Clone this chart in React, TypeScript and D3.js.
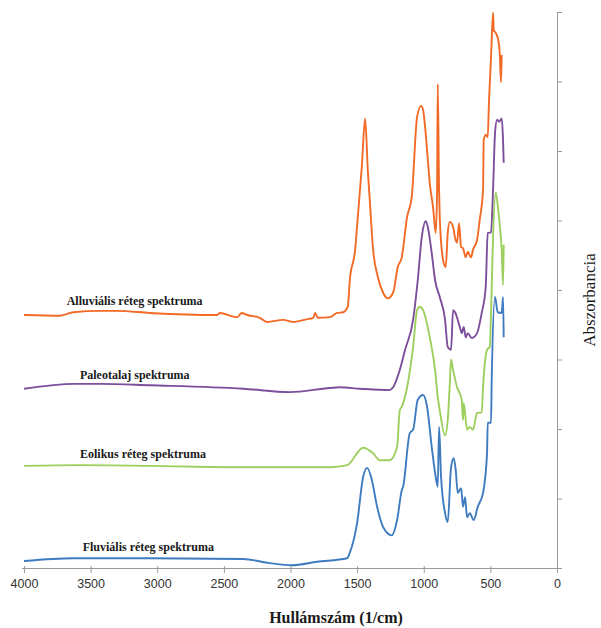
import React, { useEffect, useRef } from "react";
import * as d3 from "d3";

// Wavenumber (1/cm) and absorbance (arbitrary units, stacked spectra)
const alluvialWn = [4000, 3730, 3630, 3430, 3300, 3055, 2550, 2530, 2400, 2365, 2325, 2230, 2175, 2055, 1980, 1875, 1830, 1815, 1795, 1705, 1650, 1605, 1570, 1555, 1515, 1495, 1465, 1440, 1420, 1405, 1380, 1345, 1305, 1270, 1230, 1195, 1165, 1125, 1090, 1050, 1020, 1005, 990, 975, 955, 930, 910, 900, 895, 885, 880, 855, 835, 820, 805, 780, 765, 750, 735, 720, 705, 685, 670, 645, 630, 600, 580, 555, 550, 535, 520, 510, 495, 480, 475, 460, 445, 430, 420, 415];
const alluvialAbs = [3.64, 3.63, 3.68, 3.70, 3.70, 3.67, 3.64, 3.67, 3.61, 3.67, 3.64, 3.60, 3.54, 3.57, 3.54, 3.58, 3.60, 3.67, 3.60, 3.61, 3.67, 3.68, 3.76, 4.14, 4.58, 5.05, 5.77, 6.47, 5.73, 5.29, 4.58, 4.19, 3.96, 3.88, 3.96, 4.33, 4.47, 5.05, 5.34, 6.49, 6.65, 6.59, 6.35, 6.01, 5.54, 5.19, 4.82, 5.40, 6.96, 5.44, 5.05, 4.43, 4.33, 4.82, 4.98, 4.91, 4.75, 4.68, 4.96, 4.62, 4.60, 4.47, 4.55, 4.47, 4.58, 4.72, 5.01, 5.44, 6.16, 6.23, 6.20, 6.73, 7.35, 7.99, 7.74, 7.70, 7.63, 7.41, 6.99, 7.38];

const paleosolWn = [4000, 3620, 3430, 3055, 2355, 2005, 1705, 1630, 1480, 1255, 1230, 1180, 1140, 1080, 1045, 1015, 985, 970, 940, 915, 880, 840, 820, 795, 780, 765, 730, 715, 700, 685, 670, 640, 600, 565, 535, 520, 495, 480, 465, 450, 435, 415, 405, 400];
const paleosolAbs = [2.58, 2.65, 2.65, 2.63, 2.58, 2.53, 2.59, 2.60, 2.58, 2.56, 2.60, 2.85, 3.14, 3.57, 4.14, 4.76, 4.99, 4.91, 4.53, 4.14, 3.90, 3.57, 3.18, 3.14, 3.71, 3.68, 3.47, 3.38, 3.47, 3.32, 3.38, 3.31, 3.38, 3.67, 4.04, 4.82, 4.83, 5.44, 6.26, 6.45, 6.42, 6.47, 6.16, 5.83];

const eolianWn = [4000, 3580, 3055, 2355, 2155, 1705, 1575, 1455, 1380, 1330, 1255, 1200, 1180, 1165, 1125, 1080, 1050, 1030, 1005, 955, 915, 895, 880, 840, 820, 805, 795, 780, 750, 715, 705, 700, 675, 655, 630, 600, 565, 555, 525, 505, 490, 480, 460, 445, 430, 415, 405, 400];
const eolianAbs = [1.47, 1.48, 1.47, 1.45, 1.45, 1.45, 1.48, 1.73, 1.65, 1.55, 1.55, 1.74, 2.27, 2.32, 2.60, 3.18, 3.71, 3.76, 3.71, 3.32, 2.85, 2.46, 2.27, 1.91, 2.13, 2.63, 3.00, 2.85, 2.60, 2.42, 2.13, 2.37, 1.99, 2.03, 1.99, 2.23, 2.24, 2.60, 3.14, 3.18, 4.04, 4.76, 5.40, 5.22, 4.94, 4.58, 4.07, 4.65];

const fluvialWn = [4000, 3630, 3430, 3055, 2355, 2155, 1990, 1800, 1575, 1555, 1500, 1455, 1425, 1390, 1350, 1305, 1240, 1200, 1165, 1155, 1105, 1080, 1045, 1005, 975, 940, 915, 895, 885, 870, 840, 820, 795, 775, 760, 745, 720, 705, 690, 675, 655, 625, 595, 555, 525, 520, 495, 490, 465, 445, 415, 405, 400];
const fluvialAbs = [0.10, 0.14, 0.14, 0.14, 0.13, 0.07, 0.04, 0.09, 0.14, 0.22, 0.65, 1.31, 1.44, 1.27, 0.88, 0.59, 0.47, 0.69, 1.12, 1.17, 1.94, 1.99, 2.42, 2.49, 2.32, 1.74, 1.37, 1.17, 2.03, 1.31, 0.79, 0.66, 1.45, 1.58, 1.41, 1.08, 1.15, 0.88, 1.02, 0.73, 0.79, 0.69, 0.88, 1.08, 1.65, 2.09, 2.09, 2.71, 3.90, 3.68, 3.67, 3.90, 3.32];

const seriesNames = ["Alluviális réteg spektruma", "Paleotalaj spektruma", "Eolikus réteg spektruma", "Fluviális réteg spektruma"];
const seriesColors = ["#F26A25", "#7D4E9C", "#9DCF5E", "#3F7BC0"];
const labelWn = [3680, 3580, 3580, 3560];
const labelAbs = [3.78, 2.72, 1.58, 0.24];

const xTicks = [4000, 3500, 3000, 2500, 2000, 1500, 1000, 500, 0];
const yTicks = [0, 1, 2, 3, 4, 5, 6, 7, 8];
const xTitle = "Hullámszám (1/cm)";
const yTitle = "Abszorbancia";

export default function App() {
  const ref = useRef<SVGSVGElement | null>(null);

  useEffect(() => {
    const svg = d3.select(ref.current);
    svg.selectAll("*").remove();

    const x = d3.scaleLinear().domain([4000, 0]).range([24, 557]);
    const y = d3.scaleLinear().domain([0, 8]).range([568, 12]);

    const axisColor = "#9a9a9a";

    // x axis
    const gx = svg.append("g").attr("transform", "translate(0,568)");
    gx.call(
      d3.axisBottom(x).tickValues(xTicks).tickSize(5).tickSizeOuter(0).tickPadding(6).tickFormat(d3.format("d") as any)
    );
    gx.select(".domain").attr("stroke", axisColor).attr("d", "M22,0.5H561");
    gx.selectAll(".tick line").attr("stroke", axisColor).attr("y1", -2);
    gx.selectAll(".tick text")
      .attr("fill", "#333")
      .attr("font-family", "Liberation Sans, Arial, sans-serif")
      .attr("font-size", 12.5);

    // right axis (no labels)
    const gy = svg.append("g").attr("transform", "translate(557,0)");
    gy.call(d3.axisRight(y).tickValues(yTicks).tickSize(5).tickSizeOuter(0).tickFormat(() => ""));
    gy.select(".domain").attr("stroke", axisColor);
    gy.selectAll(".tick line").attr("stroke", axisColor);

    const line = d3
      .line<[number, number]>()
      .x((d) => x(d[0]))
      .y((d) => y(d[1]))
      .curve(d3.curveMonotoneX);

    const data: [number, number][][] = [
      alluvialWn.map((w, i) => [w, alluvialAbs[i]]),
      paleosolWn.map((w, i) => [w, paleosolAbs[i]]),
      eolianWn.map((w, i) => [w, eolianAbs[i]]),
      fluvialWn.map((w, i) => [w, fluvialAbs[i]]),
    ];

    data.forEach((d, i) => {
      svg
        .append("path")
        .datum(d)
        .attr("fill", "none")
        .attr("stroke", seriesColors[i])
        .attr("stroke-width", 1.9)
        .attr("stroke-linejoin", "round")
        .attr("d", line);

      svg
        .append("text")
        .attr("x", x(labelWn[i]))
        .attr("y", y(labelAbs[i]))
        .attr("font-family", "Liberation Serif, Times New Roman, serif")
        .attr("font-size", 12)
        .attr("font-weight", "bold")
        .attr("fill", "#1a1a1a")
        .text(seriesNames[i]);
    });

    svg
      .append("text")
      .attr("x", 336)
      .attr("y", 623)
      .attr("text-anchor", "middle")
      .attr("font-family", "Liberation Serif, Times New Roman, serif")
      .attr("font-size", 16)
      .attr("font-weight", "bold")
      .attr("fill", "#1a1a1a")
      .text(xTitle);

    svg
      .append("text")
      .attr("transform", "translate(595,300) rotate(-90)")
      .attr("text-anchor", "middle")
      .attr("font-family", "Liberation Serif, Times New Roman, serif")
      .attr("font-size", 17)
      .attr("fill", "#1a1a1a")
      .text(yTitle);
  }, []);

  return (
    <svg
      ref={ref}
      width={601}
      height={628}
      style={{ position: "absolute", left: 0, top: 0, background: "#fff" }}
    />
  );
}
